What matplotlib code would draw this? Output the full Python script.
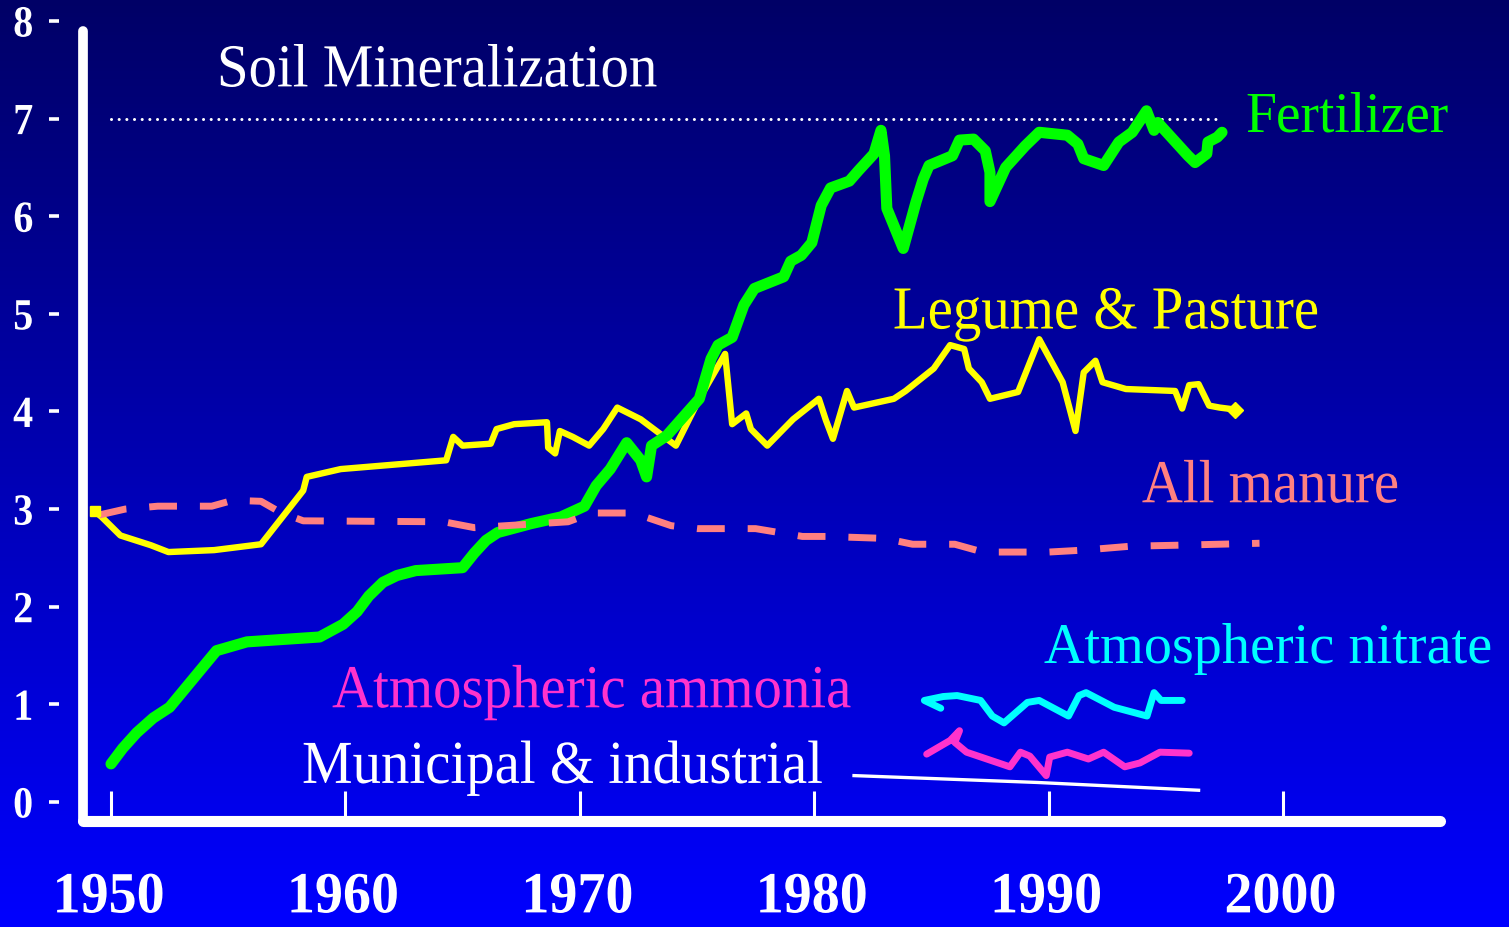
import matplotlib
matplotlib.use("Agg")
import matplotlib.pyplot as plt
import numpy as np
from matplotlib.patheffects import AbstractPathEffect
from matplotlib.transforms import Affine2D

# ---- data (N inputs, by source) ----
fert_years = [1950.0, 1950.5, 1951.1, 1951.8, 1952.5, 1953.5, 1954.5, 1955.8, 1958.9, 1959.9,
              1960.5, 1961.0, 1961.6, 1962.2, 1963.0, 1965.0, 1965.5, 1966.0, 1966.5, 1967.9,
              1969.2, 1970.2, 1970.7, 1971.3, 1972.0, 1972.6, 1972.85, 1973.06, 1973.7, 1975.1,
              1975.6, 1975.9, 1976.5, 1977.0, 1977.45, 1978.7, 1979.0, 1979.45, 1979.9, 1980.3,
              1980.7, 1981.5, 1981.9, 1982.55, 1982.85, 1983.0, 1983.1, 1983.8, 1984.35, 1984.65,
              1984.9, 1985.9, 1986.2, 1986.8, 1987.3, 1987.5, 1987.5, 1988.17, 1989.0, 1989.6,
              1990.8, 1991.25, 1991.5, 1992.35, 1993.0, 1993.57, 1994.18, 1994.5, 1994.66, 1995.95,
              1996.25, 1996.75, 1996.8, 1997.2, 1997.4]
fert_values = [0.39, 0.55, 0.71, 0.86, 0.97, 1.26, 1.55, 1.64, 1.69, 1.82,
               1.95, 2.11, 2.25, 2.32, 2.37, 2.40, 2.55, 2.68, 2.76, 2.85,
               2.92, 3.03, 3.24, 3.41, 3.68, 3.50, 3.33, 3.65, 3.75, 4.13,
               4.54, 4.68, 4.76, 5.09, 5.26, 5.38, 5.54, 5.60, 5.73, 6.11,
               6.29, 6.36, 6.47, 6.64, 6.88, 6.62, 6.08, 5.67, 6.15, 6.38,
               6.52, 6.62, 6.78, 6.79, 6.67, 6.45, 6.15, 6.50, 6.72, 6.86,
               6.83, 6.74, 6.59, 6.52, 6.76, 6.86, 7.08, 6.88, 6.96, 6.62,
               6.55, 6.64, 6.76, 6.81, 6.86]

legume_years = [1949.3, 1949.6, 1950.4, 1951.7, 1952.45, 1954.4, 1956.4, 1958.2, 1958.35, 1959.8,
                1964.3, 1964.6, 1965.0, 1966.2, 1966.45, 1967.2, 1968.6, 1968.65, 1968.95, 1969.15,
                1969.7, 1970.4, 1971.0, 1971.6, 1972.6, 1974.1, 1975.1, 1976.2, 1976.5, 1977.1,
                1977.3, 1978.0, 1979.1, 1980.2, 1980.5, 1980.8, 1981.4, 1981.7, 1983.4, 1983.9,
                1985.1, 1985.8, 1986.4, 1986.6, 1987.15, 1987.5, 1988.7, 1989.6, 1990.6, 1991.15,
                1991.5, 1992.0, 1992.3, 1993.3, 1995.4, 1995.7, 1996.0, 1996.4, 1996.85, 1997.3,
                1997.95]
legume_values = [2.98, 2.92, 2.73, 2.63, 2.56, 2.58, 2.64, 3.19, 3.33, 3.41,
                 3.50, 3.74, 3.65, 3.67, 3.82, 3.87, 3.89, 3.63, 3.57, 3.80,
                 3.74, 3.65, 3.82, 4.04, 3.92, 3.65, 4.13, 4.59, 3.87, 3.98,
                 3.82, 3.65, 3.92, 4.13, 3.91, 3.72, 4.21, 4.04, 4.13, 4.21,
                 4.44, 4.68, 4.64, 4.44, 4.30, 4.13, 4.20, 4.74, 4.30, 3.80,
                 4.40, 4.52, 4.30, 4.23, 4.21, 4.03, 4.27, 4.28, 4.06, 4.04,
                 4.02]

manure_years = [1949.5, 1950.6, 1952.0, 1954.3, 1955.2, 1956.4, 1957.2, 1958.2, 1964.2, 1965.5,
                1967.5, 1969.5, 1970.5, 1972.3, 1973.9, 1975.0, 1977.5, 1979.5, 1980.5, 1983.0,
                1984.2, 1986.0, 1987.2, 1990.0, 1991.5, 1993.5, 1995.5, 1999.0]
manure_values = [2.94, 3.00, 3.03, 3.03, 3.09, 3.08, 2.97, 2.88, 2.87, 2.81,
                 2.84, 2.87, 2.96, 2.96, 2.83, 2.80, 2.80, 2.72, 2.72, 2.70,
                 2.64, 2.64, 2.56, 2.56, 2.58, 2.62, 2.63, 2.65]

nitrate_years = [1985.4, 1984.7, 1985.5, 1986.1, 1987.1, 1987.6, 1988.1, 1989.1, 1989.6, 1990.85,
                 1991.3, 1991.6, 1992.8, 1994.2, 1994.5, 1994.8, 1995.7]
nitrate_values = [0.96, 1.04, 1.08, 1.09, 1.04, 0.88, 0.81, 1.02, 1.04, 0.88,
                  1.09, 1.12, 0.97, 0.88, 1.12, 1.04, 1.04]

ammonia_years = [1984.8, 1985.8, 1986.2, 1986.0, 1986.5, 1988.35, 1988.8, 1989.2, 1989.9, 1990.05,
                 1990.8, 1991.7, 1992.35, 1993.25, 1993.9, 1994.75, 1996.0]
ammonia_values = [0.49, 0.63, 0.73, 0.61, 0.51, 0.36, 0.51, 0.47, 0.27, 0.46,
                  0.51, 0.44, 0.51, 0.36, 0.40, 0.51, 0.50]

municipal_years = [1981.7, 1989.5, 1996.4]
municipal_values = [0.27, 0.20, 0.12]

soil_years = [1950.0, 1997.4]
soil_values = [7.0, 7.0]

year_ticks = [1950, 1960, 1970, 1980, 1990, 2000]
value_ticks = [0, 1, 2, 3, 4, 5, 6, 7, 8]


class Squeeze(AbstractPathEffect):
    # the slide text is a bit narrower than plain Times
    def __init__(self, sx):
        super().__init__()
        self.sx = sx

    def draw_path(self, renderer, gc, tpath, affine, rgbFace=None):
        renderer.draw_path(gc, tpath, Affine2D().scale(self.sx, 1) + affine, rgbFace)


plt.rcParams['font.family'] = ['Liberation Serif', 'DejaVu Serif']

fig = plt.figure(figsize=(15.09, 9.28), dpi=100)

# blue slide background, dark at the top
bg = fig.add_axes([0, 0, 1, 1], zorder=-1)
grad = np.linspace(0, 1, 256).reshape(-1, 1)
rgb = np.zeros((256, 1, 3))
rgb[:, 0, 2] = 0.40 + 0.60 * grad[:, 0]
bg.imshow(rgb, aspect='auto', extent=[0, 1, 0, 1], origin='upper')
bg.axis('off')

ax = fig.add_axes([83 / 1509, 1 - 822 / 928, 1357 / 1509, 800 / 928])
ax.patch.set_alpha(0)
ax.set_xlim(1948.805, 2006.70)
ax.set_ylim(-0.195, 8.0)

ax.plot(soil_years, soil_values, color='white', lw=2.2, linestyle=(0, (0.01, 2.5)),
        dash_capstyle='round', zorder=2)
ax.plot(legume_years, legume_values, color='#ffff00', lw=4.6, solid_joinstyle='round',
        solid_capstyle='round', zorder=3)
ax.plot(legume_years[:1], legume_values[:1], 's', color='#ffff00', ms=7, zorder=6)
ax.plot(legume_years[-1:], legume_values[-1:], 'D', color='#ffff00', ms=8, zorder=3)
ax.plot(fert_years, fert_values, color='#00ff00', lw=8, solid_joinstyle='round',
        solid_capstyle='round', zorder=4)
ax.plot(manure_years, manure_values, color='#ff8080', lw=5, linestyle=(0, (4, 3.3)),
        dash_capstyle='butt', zorder=5)
ax.plot(nitrate_years, nitrate_values, color='#00ffff', lw=5, solid_joinstyle='round',
        solid_capstyle='round', zorder=4)
ax.plot(ammonia_years, ammonia_values, color='#ff33cc', lw=5, solid_joinstyle='round',
        solid_capstyle='round', zorder=4)
ax.plot(municipal_years, municipal_values, color='white', lw=2.4, zorder=4)

# series labels
sq = [Squeeze(0.93)]
ax.text(1954.52, 7.33, 'Soil Mineralization', color='white', fontsize=44, path_effects=sq)
ax.text(1998.38, 6.875, 'Fertilizer', color='#00ff00', fontsize=40, clip_on=False)
ax.text(1983.36, 4.85, 'Legume & Pasture', color='#ffff00', fontsize=44, path_effects=sq)
ax.text(1993.98, 3.07, 'All manure', color='#ff8080', fontsize=44, path_effects=sq)
ax.text(1989.8, 1.43, 'Atmospheric nitrate', color='#00ffff', fontsize=40.5, clip_on=False)
ax.text(1959.43, 0.97, 'Atmospheric ammonia', color='#ff33cc', fontsize=44, path_effects=sq)
ax.text(1958.15, 0.195, 'Municipal & industrial', color='white', fontsize=44, path_effects=sq)

# axes in slide style
for side in ['top', 'right']:
    ax.spines[side].set_visible(False)
ax.spines['bottom'].set_color('white')
ax.spines['bottom'].set_linewidth(8)
ax.spines['bottom'].set_capstyle('round')
ax.spines['left'].set_position(('outward', 17))
ax.spines['left'].set_visible(False)
ax.axvline(ax.get_xlim()[0], ymin=0, ymax=(7.9 + 0.195) / 8.195, color='white', lw=7,
           solid_capstyle='round', clip_on=False)

ax.set_xticks(year_ticks)
ax.set_xticklabels([str(y) for y in year_ticks])
ax.set_yticks(value_ticks)
ax.set_yticklabels([str(v) for v in value_ticks])
ax.tick_params(axis='x', direction='in', length=21.6, width=2.2, color='white',
               labelcolor='white', labelsize=42, pad=37)
ax.tick_params(axis='y', direction='out', length=7.2, width=2.6, color='white',
               labelcolor='white', labelsize=32, pad=10)
for lbl in ax.get_xticklabels():
    lbl.set_fontweight('bold')
    lbl.set_path_effects([Squeeze(0.96)])
for lbl in ax.get_yticklabels():
    lbl.set_fontweight('bold')
    lbl.set_path_effects([Squeeze(0.9)])

fig.savefig('out.png', dpi=100)
